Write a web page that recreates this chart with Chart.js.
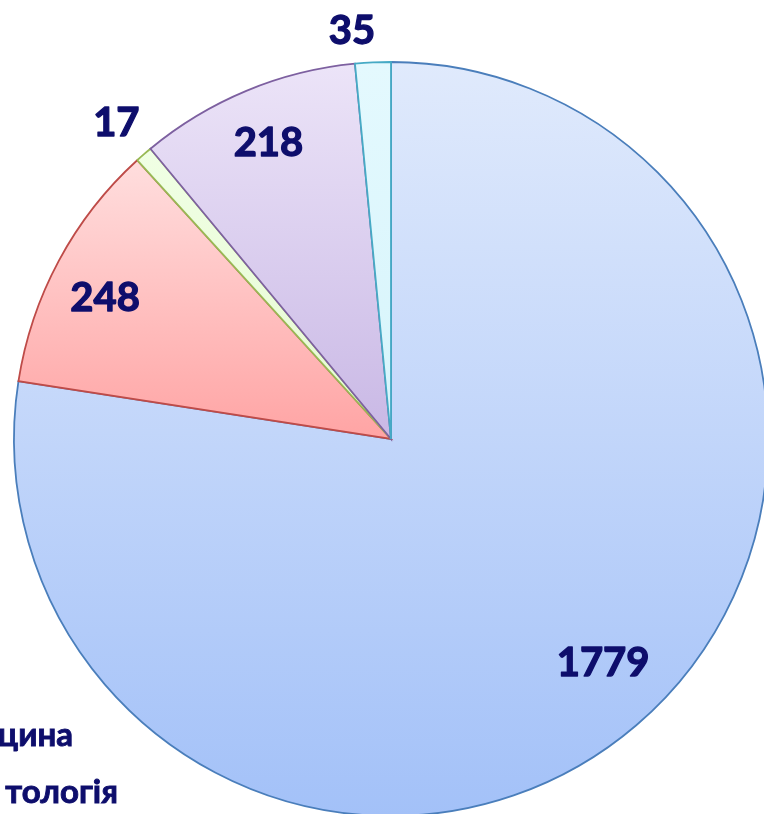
<!DOCTYPE html>
<html>
<head>
<meta charset="utf-8">
<script src="https://cdn.jsdelivr.net/npm/chart.js@4.4.1/dist/chart.umd.min.js"></script>
<style>
  html, body { margin: 0; padding: 0; width: 764px; height: 814px; overflow: hidden; background: #ffffff; }
  #wrap { position: absolute; left: 0; top: 0; width: 782px; height: 878px; }
  .leg { position: absolute; font-family: Lato, "Open Sans", sans-serif; font-weight: 700; color: #0e0e6c; font-size: 33px; white-space: nowrap; line-height: 1; -webkit-text-stroke: 0.9px #0e0e6c; }
</style>
</head>
<body>
<div id="wrap"><canvas id="c" width="782" height="878"></canvas></div>
<div class="leg" id="l1" style="right: 691px; top: 717px;">цина</div>
<div class="leg" id="l2" style="right: 646px; top: 774px;">тологія</div>
<script>
const categories = ["1", "2", "3", "4", "5"];
const values = [1779, 248, 17, 218, 35];
const labelsText = ["1779", "248", "17", "218", "35"];

const gradTop = ["#e0eafc", "#ffdede", "#f0ffe4", "#ece4f8", "#e4f9fe"];
const gradBottom = ["#a3c1f8", "#ffa4a4", "#e6fad2", "#c9b8e5", "#d6f4fb"];
const borderColors = ["#4a7ebb", "#be4b48", "#98b954", "#7d60a0", "#46aac5"];
const labelRadius = [0.816, 0.847, 1.113, 0.854, 1.09];
const labelNudgeDeg = [-3.0, -1.8, 0.1, 0.2, -2.7];

const gradientPlugin = {
  id: 'grad',
  beforeDatasetsDraw(chart) {
    const meta = chart.getDatasetMeta(0);
    const ctx = chart.ctx;
    meta.data.forEach((arc, i) => {
      const { x, y, startAngle, endAngle, outerRadius } = arc.getProps(['x','y','startAngle','endAngle','outerRadius'], true);
      let ys = [y, y + Math.sin(startAngle) * outerRadius, y + Math.sin(endAngle) * outerRadius];
      const norm = a => { let t = a; while (t < startAngle) t += 2 * Math.PI; return t; };
      if (norm(-Math.PI / 2) <= endAngle) ys.push(y - outerRadius);
      if (norm(Math.PI / 2) <= endAngle) ys.push(y + outerRadius);
      const y0 = Math.min(...ys), y1 = Math.max(...ys);
      const g = ctx.createLinearGradient(0, y0, 0, y1);
      g.addColorStop(0, gradTop[i]);
      g.addColorStop(1, gradBottom[i]);
      arc.options.backgroundColor = g;
    });
  }
};

const labelPlugin = {
  id: 'vlabels',
  afterDatasetsDraw(chart) {
    const meta = chart.getDatasetMeta(0);
    const ctx = chart.ctx;
    ctx.save();
    ctx.font = '700 40px Lato, "Open Sans", sans-serif';
    ctx.fillStyle = '#0e0e6c';
    ctx.strokeStyle = '#0e0e6c';
    ctx.lineWidth = 1.3;
    ctx.lineJoin = 'round';
    ctx.textAlign = 'center';
    ctx.textBaseline = 'alphabetic';
    meta.data.forEach((arc, i) => {
      const { x, y, startAngle, endAngle, outerRadius } = arc.getProps(['x','y','startAngle','endAngle','outerRadius'], true);
      const mid = (startAngle + endAngle) / 2 + labelNudgeDeg[i] * Math.PI / 180;
      const r = outerRadius * labelRadius[i];
      const lx = x + Math.cos(mid) * r;
      const ly = y + Math.sin(mid) * r;
      ctx.fillText(labelsText[i], lx, ly + 14.5);
      ctx.strokeText(labelsText[i], lx, ly + 14.5);
    });
    ctx.restore();
  }
};

new Chart(document.getElementById('c'), {
  type: 'pie',
  data: {
    labels: categories,
    datasets: [{
      data: values,
      backgroundColor: gradTop,
      borderColor: borderColors,
      borderWidth: 1.8,
      borderJoinStyle: 'miter',
      hoverOffset: 0
    }]
  },
  options: {
    responsive: false,
    animation: false,
    radius: 377,
    layout: { padding: 0 },
    plugins: {
      legend: { display: false },
      tooltip: { enabled: false }
    }
  },
  plugins: [gradientPlugin, labelPlugin]
});
</script>
</body>
</html>
